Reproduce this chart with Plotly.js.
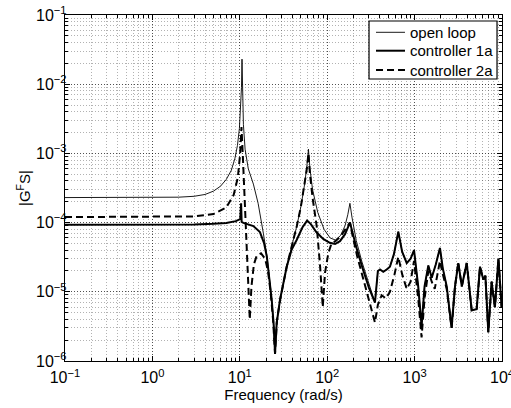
<!DOCTYPE html>
<html>
<head>
<meta charset="utf-8">
<script src="https://cdn.plot.ly/plotly-3.0.1.min.js"></script>
<style>html,body{margin:0;padding:0;background:#fff;}#chart{width:511px;height:408px;}</style>
</head>
<body>
<div id="chart"></div>
<script>
// open loop
const freqOpen = [0.1,0.5,1,2,3,4,5,6,7,8,8.8,9.4,9.9,10.2,10.45,10.6,10.75,11.0,11.5,12.5,14.3,16.2,18.6,20.5,22.2,23.8,25.3,26.6,29,34.4,40,45,50,55,58.5,61,63.5,68,78,92,108,124,142,160,172,182,192,215,250,300,352,380,402,438,480,522,580,651,720,813,900,985,1100,1202,1300,1436,1570,1750,1950,2100,2330,2650,2900,3160,3470,3950,4500,5130,5600,6110,6460,6970,7600,8300,9100,9900,10000];
const magOpen = [2.3e-4,2.3e-4,2.3e-4,2.33e-4,2.4e-4,2.55e-4,2.85e-4,3.35e-4,4.2e-4,5.7e-4,8.5e-4,1.3e-3,2.3e-3,4e-3,9e-3,2.3e-2,7e-3,2.6e-3,1.15e-3,6e-4,3.6e-4,1.9e-4,7e-5,3.2e-5,1.3e-5,5e-6,1.3e-6,3.8e-6,7.8e-6,2.3e-5,5e-5,9e-5,1.7e-4,3.5e-4,6.5e-4,1.15e-3,6e-4,3e-4,1.4e-4,8e-5,6e-5,5.6e-5,6.5e-5,9e-5,1.3e-4,1.9e-4,1.2e-4,5.5e-5,2.7e-5,1.3e-5,7e-6,2e-5,2.1e-5,1.95e-5,2.1e-5,2.3e-5,3.5e-5,7.4e-5,3.8e-5,2.6e-5,3e-5,4e-5,1.2e-5,3.2e-6,1.2e-5,2.4e-5,1.6e-5,2.5e-5,4.3e-5,2.2e-5,1.2e-5,3e-6,1.2e-5,2.6e-5,1.2e-5,2.6e-5,5.4e-6,5.6e-6,2.3e-5,1.5e-5,1.7e-5,2.6e-6,1.4e-5,6e-6,3e-5,6e-6,8e-6];

// controller 1a
const freq1a = [0.1,1,3,5,7,9,10.1,10.35,10.5,11,12.5,14.3,17,19,20.4,22,23.2,24.5,25.3,26.4,28.8,34.4,39,44.7,52,58.9,65,75,90,107,123,140,160,182,195,220,260,300,352,380,402,438,480,522,580,651,720,813,900,985,1100,1202,1300,1436,1570,1750,1950,2100,2330,2650,2900,3160,3470,3950,4500,5130,5600,6110,6460,6970,7600,8300,9100,9900,10000];
const mag1a = [9.3e-5,9.3e-5,9.4e-5,9.6e-5,9.9e-5,1.05e-4,1.12e-4,1.9e-4,1.02e-4,9.9e-5,9.5e-5,8.9e-5,7.3e-5,5e-5,3.2e-5,1.5e-5,7.6e-6,3.2e-6,1.26e-6,3.5e-6,7.6e-6,2.3e-5,4e-5,5.6e-5,8.5e-5,1.07e-4,9.5e-5,7.3e-5,5.8e-5,5.1e-5,4.9e-5,5.4e-5,6.8e-5,1.0e-4,7e-5,4e-5,2e-5,1.15e-5,7e-6,2e-5,2.1e-5,1.95e-5,2.1e-5,2.3e-5,3.5e-5,7.4e-5,3.8e-5,2.6e-5,3e-5,4e-5,1.2e-5,3.2e-6,1.2e-5,2.4e-5,1.6e-5,2.5e-5,4.3e-5,2.2e-5,1.2e-5,3e-6,1.2e-5,2.6e-5,1.2e-5,2.6e-5,5.4e-6,5.6e-6,2.3e-5,1.5e-5,1.7e-5,2.6e-6,1.4e-5,6e-6,3e-5,6e-6,8e-6];

// controller 2a
const freq2a = [0.1,1,3,5,7,8.5,9.5,10.1,10.45,10.8,11.3,12,12.6,13,13.6,14.5,15.6,17.5,19.5,21,22.5,24,25.3,26.6,29,34.4,40,45,50,55,58.5,61,63.5,68,76,83,89,94.5,103,112,124,142,160,182,195,220,260,300,352,380,420,470,522,590,651,720,813,900,985,1100,1202,1300,1436,1570,1700,1950,2100,2330,2650,2900,3160,3470,3950,4500,5130,5600,6110,6460,6970,7600,8300,9100,9900,10000];
const mag2a = [1.2e-4,1.2e-4,1.23e-4,1.33e-4,1.65e-4,2.5e-4,4.5e-4,1.0e-3,2.4e-3,1.0e-3,2.8e-4,5e-5,1.2e-5,4e-6,1.2e-5,2.5e-5,3.3e-5,3.6e-5,3e-5,2e-5,1e-5,4e-6,1.3e-6,3.8e-6,7.8e-6,2.3e-5,5e-5,9e-5,1.7e-4,3.5e-4,6e-4,1.0e-3,5e-4,2.3e-4,8.7e-5,2.3e-5,6e-6,1.9e-5,3.6e-5,5e-5,5.4e-5,6.3e-5,8e-5,1.0e-4,6.5e-5,3.3e-5,1.5e-5,7.5e-6,3.6e-6,6.5e-6,8.9e-6,8e-6,1e-5,1.8e-5,3.2e-5,1.8e-5,1.1e-5,1.4e-5,2.8e-5,8e-6,2.2e-6,8e-6,2e-5,1.4e-5,1.1e-5,2.8e-5,1.8e-5,1.1e-5,3e-6,1.2e-5,2.6e-5,1.2e-5,2.6e-5,5.4e-6,5.6e-6,2.3e-5,1.5e-5,1.7e-5,2.6e-6,1.4e-5,6e-6,3e-5,6e-6,8e-6];

const seriesNames = ['open loop','controller 1a','controller 2a'];
const xTickVals = [0.1,1,10,100,1000,10000];
const xTickText = ['10<sup>\u22121</sup>','10<sup>0</sup>','10<sup>1</sup>','10<sup>2</sup>','10<sup>3</sup>','10<sup>4</sup>'];
const yTickVals = [1e-6,1e-5,1e-4,1e-3,1e-2,1e-1];
const yTickText = ['10<sup>\u22126</sup>','10<sup>\u22125</sup>','10<sup>\u22124</sup>','10<sup>\u22123</sup>','10<sup>\u22122</sup>','10<sup>\u22121</sup>'];

const FONT = 'Liberation Sans, Arial, Helvetica, sans-serif';
const lineStyles = [
  {color: '#000', width: 0.9},
  {color: '#000', width: 2},
  {color: '#000', width: 2, dash: '7px,4px'}
];

const traces = [
  {x: freqOpen, y: magOpen, name: seriesNames[0], mode: 'lines', line: lineStyles[0]},
  {x: freq1a, y: mag1a, name: seriesNames[1], mode: 'lines', line: lineStyles[1]},
  {x: freq2a, y: mag2a, name: seriesNames[2], mode: 'lines', line: lineStyles[2]}
];

const axisCommon = {
  type: 'log',
  showline: true, linecolor: '#000', linewidth: 1.2, mirror: 'allticks',
  ticks: 'inside', ticklen: 5, tickcolor: '#000', tickwidth: 1,
  showgrid: true, gridcolor: 'rgba(0,0,0,0.55)', griddash: '1px,2px', gridwidth: 1,
  zeroline: false, ticklabeloverflow: 'allow',
  tickfont: {family: FONT, size: 16, color: '#000'},
  minor: {dtick: 'D1', ticks: 'inside', ticklen: 3, tickcolor: '#000', showgrid: true, gridcolor: 'rgba(0,0,0,0.3)', griddash: '1px,2px', gridwidth: 1}
};

// legend box (drawn in paper coordinates, like MATLAB's boxed legend)
const legX0 = 0.6957, legX1 = 0.9886, legY0 = 0.815, legY1 = 0.9827;
const legRowY = [0.950, 0.8968, 0.841];
const legLineX = [0.7117, 0.778];
const legTextX = 0.786;

const shapes = [{type: 'rect', xref: 'paper', yref: 'paper', x0: legX0, x1: legX1, y0: legY0, y1: legY1, fillcolor: '#fff', line: {color: '#000', width: 1.2}, layer: 'above'}];
const annotations = [];
seriesNames.forEach((n, i) => {
  shapes.push({type: 'line', xref: 'paper', yref: 'paper', x0: legLineX[0], x1: legLineX[1], y0: legRowY[i], y1: legRowY[i], line: lineStyles[i], layer: 'above'});
  annotations.push({xref: 'paper', yref: 'paper', x: legTextX, y: legRowY[i], xanchor: 'left', yanchor: 'middle', text: n, showarrow: false, font: {family: FONT, size: 15, color: '#000'}});
});

const layout = {
  width: 511, height: 408,
  margin: {l: 65, r: 9, t: 15, b: 47},
  paper_bgcolor: '#fff', plot_bgcolor: '#fff',
  font: {family: FONT, size: 15, color: '#000'},
  showlegend: false,
  shapes: shapes,
  annotations: annotations,
  xaxis: Object.assign({}, axisCommon, {range: [-1, 4], tickmode: 'array', tickvals: xTickVals, ticktext: xTickText, ticklabelstandoff: 2, title: {text: 'Frequency (rad/s)', font: {family: FONT, size: 15}, standoff: 0}}),
  yaxis: Object.assign({}, axisCommon, {range: [-6, -1], tickmode: 'array', tickvals: yTickVals, ticktext: yTickText, ticklabelstandoff: -6, title: {text: '|G<sup>F</sup>S|', font: {family: FONT, size: 15}, standoff: 1}})
};

Plotly.newPlot('chart', traces, layout, {displayModeBar: false, staticPlot: true});
</script>
</body>
</html>
